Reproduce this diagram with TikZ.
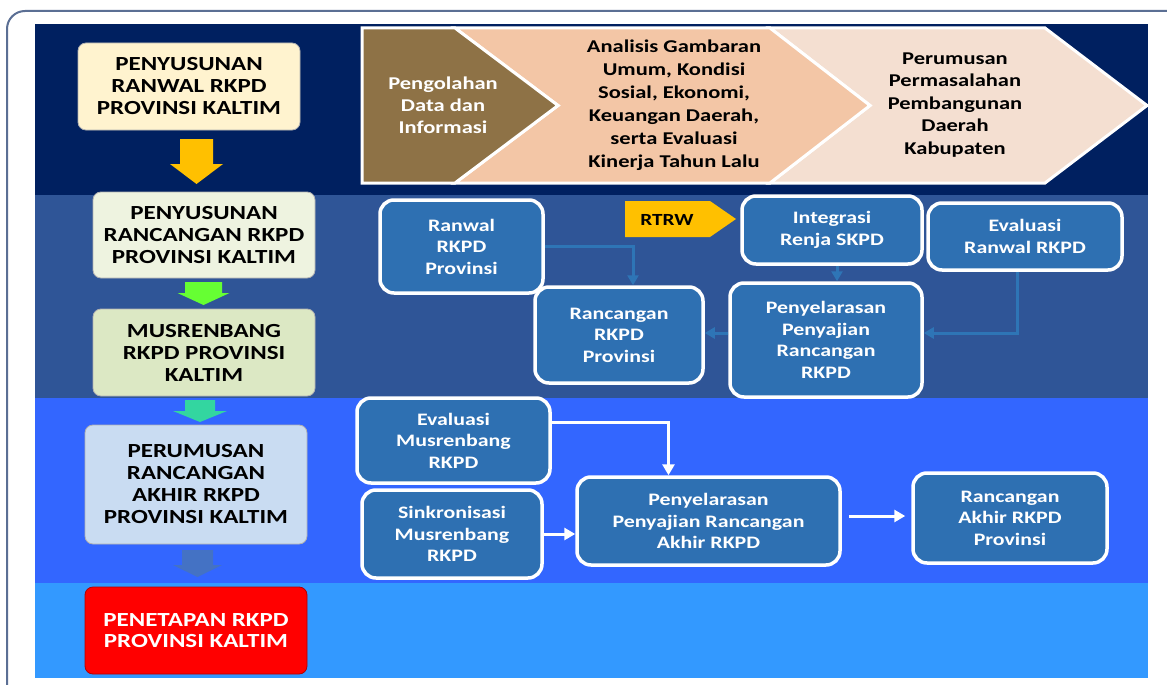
\documentclass[tikz,border=0pt]{standalone}
\usepackage{fontspec}
\setmainfont{Carlito}[FakeStretch=1.25]
\usetikzlibrary{arrows.meta,calc}
\definecolor{navyband}{HTML}{002060}
\definecolor{midband}{HTML}{2F5597}
\definecolor{brband}{HTML}{3366FF}
\definecolor{ltband}{HTML}{3399FF}
\definecolor{framec}{HTML}{5B6F94}
\definecolor{boxblue}{HTML}{2E70B2}
\definecolor{linkblue}{HTML}{2E75B6}
\definecolor{creamc}{HTML}{FFF3CF}
\definecolor{palegreen}{HTML}{EEF3E0}
\definecolor{greenc}{HTML}{DCE8C4}
\definecolor{lightbluec}{HTML}{C9DCF2}
\definecolor{redc}{HTML}{FF0000}
\definecolor{brownc}{HTML}{8E7246}
\definecolor{salmonc}{HTML}{F3C6A6}
\definecolor{peachc}{HTML}{F4DFD1}
\definecolor{goldc}{HTML}{FFC000}
\definecolor{arrgreen}{HTML}{66FF33}
\definecolor{arrteal}{HTML}{33D6A0}
\definecolor{arrblue}{HTML}{4472C4}
\newcommand{\blockarr}[7]{% cx, top, headstart, tip, shaft half, head half, color
  \fill[#7] (#1-#5,#2) -- (#1+#5,#2) -- (#1+#5,#3) -- (#1+#6,#3) -- (#1,#4) -- (#1-#6,#3) -- (#1-#5,#3) -- cycle;}
\tikzset{
  leftbox/.style={rounded corners=8pt, draw=black!30, line width=0.8pt, align=center,
    font=\bfseries\fontsize{20}{22}\selectfont, inner sep=0pt},
  darkbox/.style={rounded corners=14pt, fill=boxblue, draw=white, line width=3.5pt, text=white,
    align=center, font=\bfseries\fontsize{17.5}{21.5}\selectfont, inner sep=0pt},
  chev/.style={draw=white, line width=3pt, line join=miter},
  chevtext/.style={align=center, font=\bfseries\fontsize{18}{23}\selectfont, inner sep=0pt},
  bluelink/.style={draw=linkblue, line width=3pt, -{Triangle[length=10pt,width=11pt]}},
  whitelink/.style={draw=white, line width=3pt, -{Triangle[length=11pt,width=12pt]}}
}
\begin{document}
\begin{tikzpicture}[x=1pt,y=-1pt]
\useasboundingbox (0,0) rectangle (1167,685);
\fill[white] (0,0) rectangle (1167,685);
\draw[framec, line width=2pt, rounded corners=18pt, fill=white] (7,11) rectangle (1200,720);
\fill[navyband] (35,24) rectangle (1148,195);
\fill[midband] (35,195) rectangle (1148,398);
\fill[brband] (35,398) rectangle (1148,583);
\fill[ltband] (35,583) rectangle (1148,678);

% chevrons
\filldraw[chev, fill=peachc] (770,28) -- (1045,28) -- (1147,105.5) -- (1045,183) -- (770,183) -- (870,105.5) -- cycle;
\filldraw[chev, fill=salmonc] (455,28) -- (770,28) -- (870,105.5) -- (770,183) -- (455,183) -- (558,105.5) -- cycle;
\filldraw[chev, fill=brownc] (362,28) -- (455,28) -- (558,105.5) -- (455,183) -- (362,183) -- cycle;
\node[chevtext, text=white, font=\bfseries\fontsize{18}{22}\selectfont] (c1) at (443,105) {Pengolahan\\Data dan\\Informasi};
\node[chevtext] (c2) at (674,105) {Analisis Gambaran\\Umum, Kondisi\\Sosial, Ekonomi,\\Keuangan Daerah,\\serta Evaluasi\\Kinerja Tahun Lalu};
\node[chevtext, font=\bfseries\fontsize{18}{22.5}\selectfont] (c3) at (955,105) {Perumusan\\Permasalahan\\Pembangunan\\Daerah\\Kabupaten};

% left column
\node[leftbox, fill=creamc, minimum width=222pt, minimum height=87pt] (l1) at (189,86.5) {PENYUSUNAN\\RANWAL RKPD\\PROVINSI KALTIM};
\node[leftbox, fill=palegreen, minimum width=222pt, minimum height=86pt] (l2) at (204,235) {PENYUSUNAN\\RANCANGAN RKPD\\PROVINSI KALTIM};
\node[leftbox, fill=greenc, minimum width=222pt, minimum height=87pt] (l3) at (204,352.5) {MUSRENBANG\\RKPD PROVINSI\\KALTIM};
\node[leftbox, fill=lightbluec, minimum width=222pt, minimum height=119pt] (l4) at (196,484.5) {PERUMUSAN\\RANCANGAN\\AKHIR RKPD\\PROVINSI KALTIM};
\node[leftbox, fill=redc, text=white, draw=red!70!black, minimum width=222pt, minimum height=87pt, font=\bfseries\fontsize{20}{20.5}\selectfont] (l5) at (196,630.5) {PENETAPAN RKPD\\PROVINSI KALTIM};
\blockarr{196.5}{139}{164}{184}{16.5}{26.5}{goldc}
\blockarr{203.5}{282}{293}{305}{18.5}{26}{arrgreen}
\blockarr{200}{400}{411}{422}{15}{27}{arrteal}
\blockarr{197.5}{550}{565}{577}{15.5}{24.5}{arrblue}

% middle section
\fill[goldc] (625,201) -- (710,201) -- (736,219) -- (710,237) -- (625,237) -- cycle;
\node[font=\bfseries\fontsize{17}{18}\selectfont] (rtrw) at (667,219.5) {RTRW};
\node[darkbox, minimum width=163pt, minimum height=93pt] (ranwal) at (461.5,246.5) {Ranwal\\RKPD\\Provinsi};
\node[darkbox, minimum width=180pt, minimum height=68pt] (integ) at (832,230) {Integrasi\\Renja SKPD};
\node[darkbox, minimum width=194pt, minimum height=67pt] (evalr) at (1025,236.5) {Evaluasi\\Ranwal RKPD};
\node[darkbox, minimum width=168pt, minimum height=96pt] (ranc) at (619,335) {Rancangan\\RKPD\\Provinsi};
\node[darkbox, minimum width=192pt, minimum height=114pt] (penyel) at (826,340) {Penyelarasan\\Penyajian\\Rancangan\\RKPD};
\draw[bluelink] (ranwal.east) -| ([xshift=14pt]ranc.north);
\draw[bluelink] ([xshift=5pt]integ.south) -- ([xshift=5pt]integ.south |- penyel.north);
\draw[bluelink] ([xshift=-8pt]evalr.south) |- ([yshift=7pt]penyel.east);
\draw[bluelink] ([yshift=7pt]penyel.west) -- ([yshift=7pt]penyel.west -| ranc.east);

% bottom section
\node[darkbox, minimum width=193pt, minimum height=85pt] (evalm) at (453.5,440.5) {Evaluasi\\Musrenbang\\RKPD};
\node[darkbox, minimum width=180pt, minimum height=88pt] (sinkr) at (452,534) {Sinkronisasi\\Musrenbang\\RKPD};
\node[darkbox, minimum width=263pt, minimum height=88pt] (penyel2) at (708.5,521) {Penyelarasan\\Penyajian Rancangan\\Akhir RKPD};
\node[darkbox, minimum width=194pt, minimum height=90pt] (rakhir) at (1010,518) {Rancangan\\Akhir RKPD\\Provinsi};
\draw[whitelink] ([yshift=18pt]evalm.east) -| ([xshift=-40pt]penyel2.north);
\draw[whitelink] (sinkr.east) -- (sinkr.east -| penyel2.west);
\draw[whitelink, shorten <=7pt, shorten >=6pt] ([yshift=5pt]penyel2.east) -- ([yshift=5pt]penyel2.east -| rakhir.west);
\end{tikzpicture}
\end{document}
